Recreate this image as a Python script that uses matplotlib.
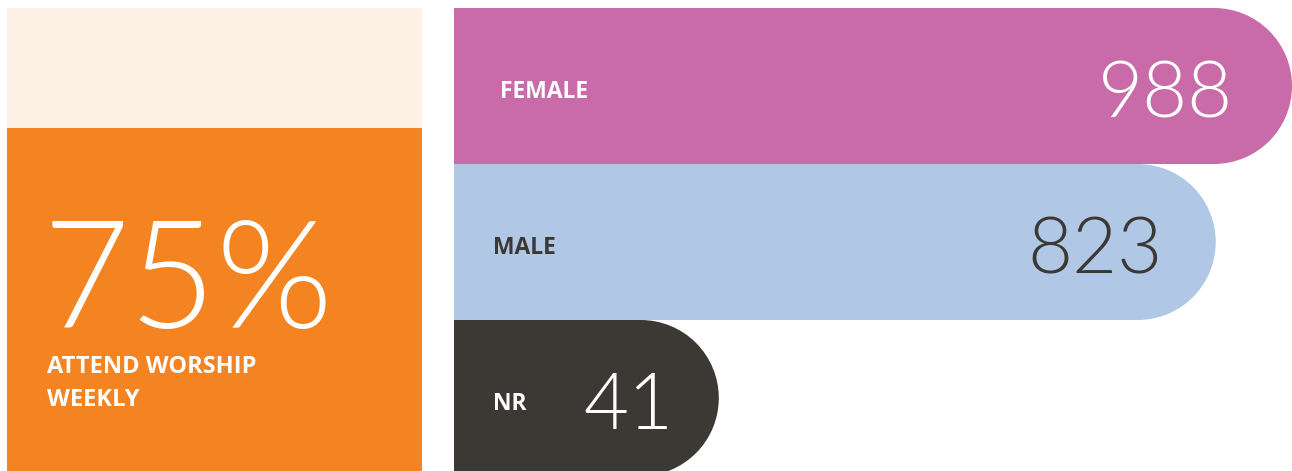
import matplotlib
matplotlib.use("Agg")
import matplotlib.pyplot as plt
from matplotlib.patches import Rectangle, Ellipse

# ---- data ----
headline_value = "75%"
headline_lines = ["ATTEND WORSHIP", "WEEKLY"]
categories = ["FEMALE", "MALE", "NR"]
counts = [988, 823, 41]
# bar extents as drawn in the graphic (fraction of the longest bar)
bar_extent = [1.0, 0.909, 0.316]
bar_colors = ["#C86BA8", "#B1C7E6", "#3C3934"]
label_colors = ["#FFFFFF", "#3C3934", "#FFFFFF"]
number_colors = ["#FFFFFF", "#3C3934", "#FFFFFF"]

W, H = 1292, 471
fig = plt.figure(figsize=(W / 100, H / 100), dpi=100)
fig.patch.set_facecolor("white")

LABEL_FONT = ["Open Sans", "DejaVu Sans"]
NUM_FONT = ["Lato", "DejaVu Sans"]

# ---- left panel ----
axL = fig.add_axes([7 / W, 0, (422 - 7) / W, (H - 8) / H])
axL.set_xlim(0, 415)
axL.set_ylim(H - 8, 0)
axL.axis("off")
axL.add_patch(Rectangle((0, 0), 415, 120, facecolor="#FDF0E4", edgecolor="none"))
axL.add_patch(Rectangle((0, 120), 415, H - 8 - 120, facecolor="#F48422", edgecolor="none"))
axL.text(36, 328 - 8, headline_value, family=NUM_FONT, weight=300,
         fontsize=108, color="white", ha="left", va="baseline")
for i, line in enumerate(headline_lines):
    axL.text(40, 373 - 8 + 33 * i, line, family=LABEL_FONT, weight="bold",
             fontsize=17, color="white", ha="left", va="baseline")

# ---- right bars ----
left_px, right_px = 454, 1292
top_px = 8
bar_h_px = 156
axR = fig.add_axes([left_px / W, 0, (right_px - left_px) / W, (H - top_px) / H])
axR.axis("off")
axR.set_xlim(0, 1)
n_visible = (H - top_px) / bar_h_px
axR.set_ylim(-0.5 + n_visible, -0.5)
ypos = list(range(len(categories)))

# radius of the rounded end in x data units (circle of half bar height)
r_x = (bar_h_px / 2) / (right_px - left_px)

axR.barh(ypos, [e - r_x for e in bar_extent], height=1.0, left=0,
         color=bar_colors, edgecolor="none", linewidth=0)
for y, e, c in zip(ypos, bar_extent, bar_colors):
    axR.add_patch(Ellipse((e - r_x, y), width=2 * r_x, height=1.0,
                          facecolor=c, edgecolor="none", linewidth=0))

label_offsets = [46, 39, 39]
num_offsets = [59, 53, 45]
span = right_px - left_px
for y, cat, cnt, e, lc, nc, lo, no in zip(ypos, categories, counts, bar_extent,
                                          label_colors, number_colors,
                                          label_offsets, num_offsets):
    axR.text(lo / span, y + 0.077, cat, family=LABEL_FONT, weight="bold", fontsize=16.5,
             color=lc, ha="left", va="baseline")
    axR.text(e - no / span, y + 0.2, f"{cnt}", family=NUM_FONT, weight=300,
             fontsize=56, color=nc, ha="right", va="baseline")

fig.savefig("out.png", dpi=100, facecolor="white")
